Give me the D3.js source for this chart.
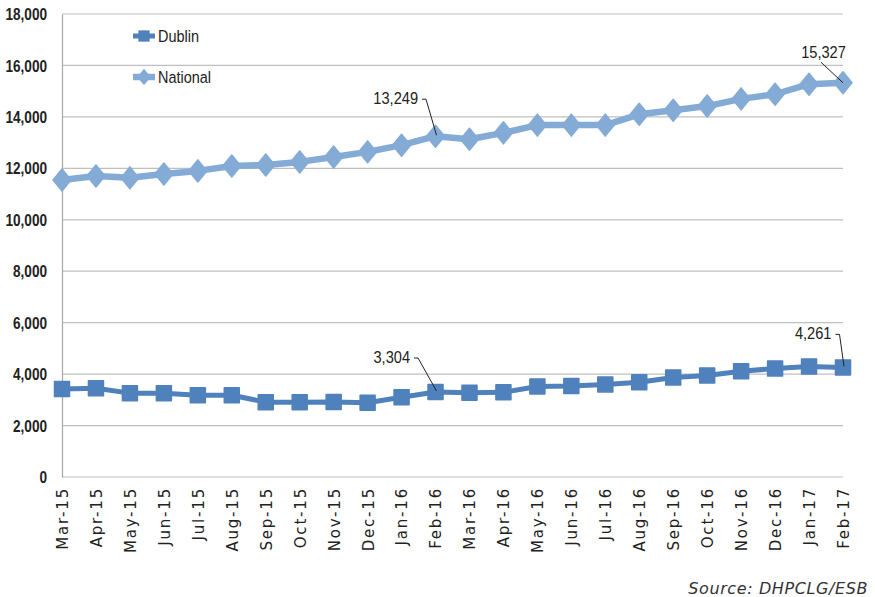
<!DOCTYPE html>
<html>
<head>
<meta charset="utf-8">
<script src="https://cdn.jsdelivr.net/npm/d3@7"></script>
<style>
  body { margin: 0; background: #fff; }
  svg { display: block; }
</style>
</head>
<body>
<div id="chart"></div>
<script>
// monthly counts, Mar-15 .. Feb-17
var months = ["Mar-15","Apr-15","May-15","Jun-15","Jul-15","Aug-15","Sep-15","Oct-15","Nov-15","Dec-15",
  "Jan-16","Feb-16","Mar-16","Apr-16","May-16","Jun-16","Jul-16","Aug-16","Sep-16","Oct-16","Nov-16","Dec-16",
  "Jan-17","Feb-17"];
var dublin = [3420,3450,3260,3260,3180,3180,2910,2910,2920,2890,3100,3304,3280,3290,3520,3540,3600,3680,3870,3950,4110,4220,4300,4261];
var national = [11550,11700,11630,11780,11900,12090,12130,12250,12440,12640,12900,13249,13130,13380,13680,13680,13680,14100,14260,14420,14700,14880,15270,15327];
var yTicks = [0,2000,4000,6000,8000,10000,12000,14000,16000,18000];

var narrow = "'Liberation Sans', Arial, sans-serif";

var margin = {top: 14, right: 32, bottom: 120, left: 62},
    width = 875 - margin.left - margin.right,
    height = 597 - margin.top - margin.bottom;

var svg = d3.select("#chart")
  .append("svg")
  .attr("width", 875)
  .attr("height", 597)
  .append("g")
  .attr("transform", "translate(" + margin.left + "," + margin.top + ")");

var x = d3.scalePoint()
  .domain(months)
  .range([0, width]);

var y = d3.scaleLinear()
  .domain([0, 18000])
  .range([height, 0]);

// squeeze text horizontally, Calibri-like
function squeeze(sel, px, py, sx) {
  sel.attr("x", null).attr("y", null)
    .attr("transform", "translate(" + px + "," + py + ") scale(" + sx + ",1)");
}

// gridlines
svg.append("g")
  .selectAll("line")
  .data(yTicks)
  .enter()
  .append("line")
  .attr("x1", 0)
  .attr("x2", width)
  .attr("y1", d => y(d))
  .attr("y2", d => y(d))
  .style("stroke", "#bfbfbf")
  .style("stroke-width", 1.2);

// left axis
var yAxis = svg.append("g")
  .call(d3.axisLeft(y).tickValues(yTicks).tickSize(0).tickFormat(d3.format(",")));
yAxis.select(".domain").style("stroke", "#a6a6a6").style("stroke-width", 1.2);
yAxis.selectAll("text")
  .call(squeeze, -15, 0, 0.85)
  .attr("dy", "0.35em")
  .style("font-family", narrow)
  .style("font-weight", "bold")
  .style("font-size", "16px")
  .style("fill", "#222");

// bottom axis
var xAxis = svg.append("g")
  .attr("transform", "translate(0," + height + ")")
  .call(d3.axisBottom(x).tickSize(0).tickPadding(0));
xAxis.select(".domain").remove();
xAxis.selectAll("text")
  .attr("transform", "rotate(-90)")
  .attr("x", -10)
  .attr("y", 0)
  .attr("dy", "0.36em")
  .style("text-anchor", "end")
  .style("font-family", "'DejaVu Sans', Arial")
  .style("font-size", "15px")
  .style("letter-spacing", "1.8px")
  .style("fill", "#222");

var series = [
  {key: "Dublin", values: dublin, color: "#4f81bd", width: 5, marker: "square"},
  {key: "National", values: national, color: "#84abd6", width: 6.5, marker: "diamond"}
];

function markerPath(type) {
  if (type == "square") return "M-7.5,-7.5 L7.5,-7.5 L7.5,7.5 L-7.5,7.5 Z";
  return "M0,-11 L9,0 L0,11 L-9,0 Z";
}

series.forEach(function(s) {
  svg.append("path")
    .datum(s.values)
    .attr("fill", "none")
    .attr("stroke", s.color)
    .attr("stroke-width", s.width)
    .attr("stroke-linejoin", "round")
    .attr("d", d3.line()
      .x(function(d, i) { return x(months[i]) })
      .y(function(d) { return y(d) }));

  svg.append("g")
    .selectAll("path")
    .data(s.values)
    .enter()
    .append("path")
    .attr("transform", (d, i) => "translate(" + x(months[i]) + "," + y(d) + ")")
    .attr("d", markerPath(s.marker))
    .style("fill", s.color)
    .style("stroke", s.color)
    .style("stroke-linejoin", "round")
    .style("stroke-width", 1.5);
});

// legend
var legend = svg.append("g").attr("transform", "translate(71,22)");
series.forEach(function(s, i) {
  var g = legend.append("g").attr("transform", "translate(0," + (i * 41) + ")");
  g.append("line")
    .attr("x1", 0).attr("x2", 22)
    .attr("stroke", s.color)
    .attr("stroke-width", s.width);
  g.append("path")
    .attr("d", markerPath(s.marker))
    .attr("transform", "translate(11,0) scale(0.75)")
    .style("fill", s.color);
  g.append("text")
    .call(squeeze, 25, 0, 0.85)
    .attr("dy", "0.35em")
    .style("font-family", narrow)
    .style("font-size", "17px")
    .style("fill", "#222")
    .text(s.key);
});

// value callouts: text end / centre offset from the point, then a leader line
var callouts = [
  {series: dublin, idx: 11, dx: -25.5, dy: -35, anchor: "end"},
  {series: national, idx: 11, dx: -17.5, dy: -38, anchor: "end"},
  {series: dublin, idx: 23, dx: -11.5, dy: -34, anchor: "end"},
  {series: national, idx: 23, dx: -19.5, dy: -31, anchor: "middle"}
];
callouts.forEach(function(c) {
  var px = x(months[c.idx]), py = y(c.series[c.idx]);
  var tx = px + c.dx, ty = py + c.dy;
  if (c.anchor == "end") {
    svg.append("path")
      .attr("d", "M" + (tx + 4) + "," + (ty + 1) + " L" + (tx + 8) + "," + (ty + 1) + " L" + (px + 1) + "," + (py - 1))
      .attr("fill", "none")
      .attr("stroke", "#222")
      .attr("stroke-width", 1);
  } else {
    svg.append("line")
      .attr("x1", px - 22).attr("y1", py - 20.5)
      .attr("x2", px).attr("y2", py)
      .attr("stroke", "#222")
      .attr("stroke-width", 1);
  }
  svg.append("text")
    .call(squeeze, tx, ty, 0.86)
    .attr("dy", "0.35em")
    .style("text-anchor", c.anchor)
    .style("font-family", narrow)
    .style("font-size", "17px")
    .style("fill", "#222")
    .text(d3.format(",")(c.series[c.idx]));
});

// source note
svg.append("text")
  .attr("x", 868 - margin.left)
  .attr("y", 594 - margin.top)
  .style("text-anchor", "end")
  .style("font-family", "'DejaVu Sans', Arial")
  .style("font-style", "italic")
  .style("font-size", "16px")
  .style("letter-spacing", "0.6px")
  .style("fill", "#333")
  .text("Source: DHPCLG/ESB");
</script>
</body>
</html>
